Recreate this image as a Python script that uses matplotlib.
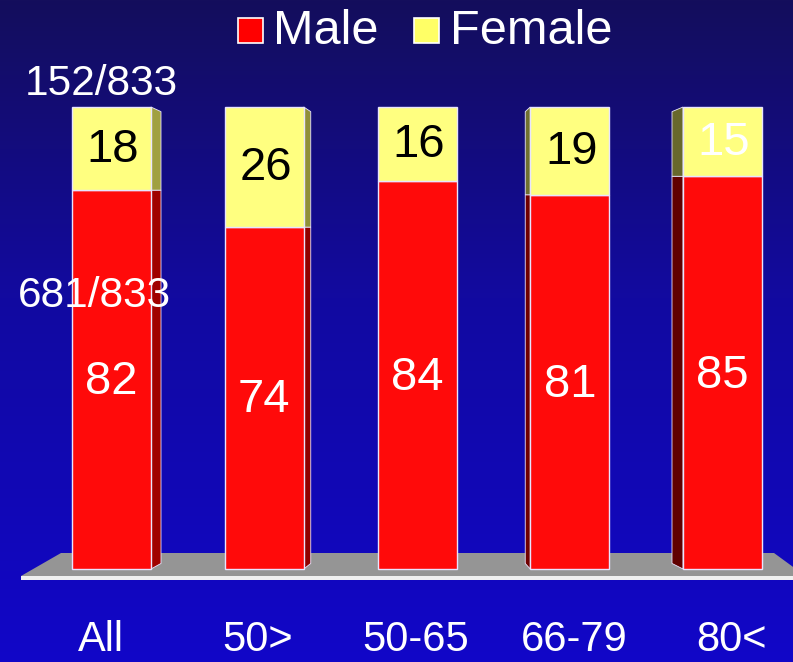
import numpy as np
import matplotlib
matplotlib.use("Agg")
import matplotlib.pyplot as plt
from matplotlib.patches import Polygon, Rectangle

categories = ["All", "50>", "50-65", "66-79", "80<"]
male = [82, 74, 84, 81, 85]
female = [18, 26, 16, 19, 15]
male_note = "681/833"
female_note = "152/833"

RED = "#ff0a0a"
YEL = "#ffff80"
EDGE = "#e8e4ff"

plt.rcParams['font.family'] = ['Liberation Sans', 'DejaVu Sans']

fig = plt.figure(figsize=(7.93, 6.62), dpi=100)
ax = fig.add_axes([0, 0, 1, 1])

PX = 152.75   # px per category
PY = 4.62     # px per unit
x0px, y0px = 111.5, 569.0
def dx(px): return (px - x0px) / PX
def dy(py): return (y0px - py) / PY

xl, xr = dx(0), dx(793)
yb, yt = dy(662), dy(0)
ax.set_xlim(xl, xr)
ax.set_ylim(yb, yt)
ax.axis('off')

# background gradient
top = np.array([20, 14, 92]) / 255
mid = np.array([18, 10, 160]) / 255
bot = np.array([17, 6, 200]) / 255
t = np.linspace(0, 1, 400)[:, None]
grad = np.where(t < 0.45, top + (mid - top) * (t / 0.45), mid + (bot - mid) * ((t - 0.45) / 0.55))
grad = np.clip(grad, 0, 1)
img = np.repeat(grad[:, None, :], 2, axis=1)
ax.imshow(img, extent=[xl, xr, yb, yt], aspect='auto', zorder=0, origin='upper')

# floor
floor = Polygon([(dx(21), dy(576)), (dx(61), dy(553)), (dx(774), dy(553)),
                 (dx(800), dy(572)), (dx(800), dy(576))],
                closed=True, facecolor="#959595", edgecolor="none", zorder=1)
ax.add_patch(floor)
ax.add_patch(Polygon([(dx(21), dy(576)), (dx(800), dy(576)), (dx(800), dy(580)), (dx(21), dy(580))],
                     closed=True, facecolor="#f0f0f0", edgecolor="none", zorder=1))

x = np.arange(len(categories))
width = 79 / PX
side = [10 / PX, 7 / PX, 0, -5 / PX, -11 / PX]
side_red = ["#a00000", "#900000", "#800000", "#700000", "#600000"]
side_yel = ["#a0a040", "#909038", "#808030", "#707030", "#68682c"]

ax.bar(x, male, width, color=RED, edgecolor=EDGE, linewidth=1.0, zorder=3)
ax.bar(x, female, width, bottom=male, color=YEL, edgecolor=EDGE, linewidth=1.0, zorder=3)

for i in range(len(categories)):
    d = side[i]
    if d == 0:
        continue
    e = x[i] + width / 2 if d > 0 else x[i] - width / 2
    m, f = male[i], female[i]
    ax.add_patch(Polygon([(e, 0), (e + d, 1.2), (e + d, m), (e, m)],
                         closed=True, facecolor=side_red[i], edgecolor=EDGE, linewidth=0.6, zorder=2))
    ax.add_patch(Polygon([(e, m), (e + d, m), (e + d, m + f - 1.0), (e, m + f)],
                         closed=True, facecolor=side_yel[i], edgecolor=EDGE, linewidth=0.6, zorder=2))

# value labels (vertical placement offsets, in px)
male_lab_py = [382, 400, 378, 385, 376]
fem_lab_py = [150, 168, 145, 152, 143]
fem_colors = ["black", "black", "black", "black", "white"]
for i in range(len(categories)):
    ax.text(x[i], dy(male_lab_py[i]), str(male[i]), color="white", fontsize=34,
            ha='center', va='center', zorder=5)
    ax.text(x[i] + 0.01, dy(fem_lab_py[i]), str(female[i]), color=fem_colors[i], fontsize=34,
            ha='center', va='center', zorder=5)

ax.text(dx(101), dy(84), female_note, color="white", fontsize=30.5, ha='center', va='center', zorder=5)
ax.text(dx(94), dy(296), male_note, color="white", fontsize=30.5, ha='center', va='center', zorder=6)

# category labels
cat_px = [101, 258, 416, 574, 731]
for i, c in enumerate(categories):
    ax.text(dx(cat_px[i]), dy(640), c, color="white", fontsize=30, ha='center', va='center',
            family=['Liberation Sans Narrow', 'DejaVu Sans Condensed', 'Liberation Sans', 'DejaVu Sans'],
            zorder=5)

# legend
ax.add_patch(Rectangle((dx(238), dy(43)), 25 / PX, 25 / PY, facecolor="#ff0000", edgecolor="white",
                       linewidth=1.2, zorder=5))
ax.text(dx(273), dy(32), "Male", color="white", fontsize=35, ha='left', va='center', zorder=5)
ax.add_patch(Rectangle((dx(414), dy(43)), 25 / PX, 25 / PY, facecolor="#ffff66", edgecolor="white",
                       linewidth=1.2, zorder=5))
ax.text(dx(450), dy(32), "Female", color="white", fontsize=35, ha='left', va='center', zorder=5)

fig.savefig("out.png", dpi=100)
